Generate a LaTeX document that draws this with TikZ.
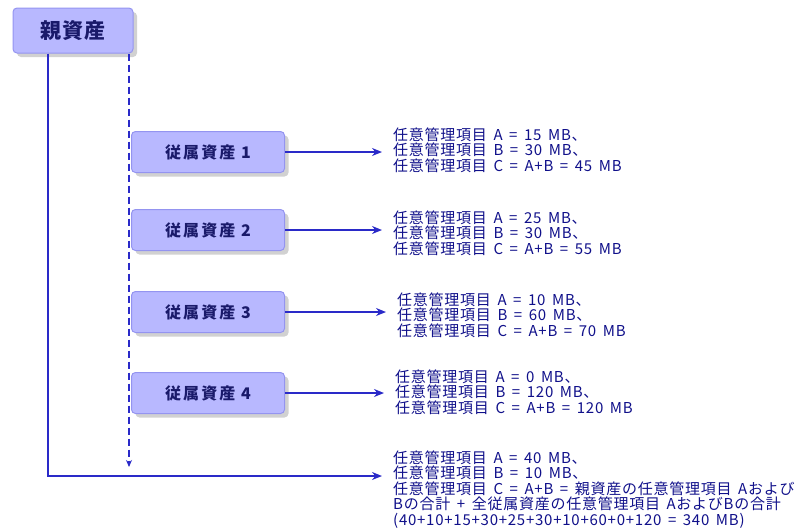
\documentclass[tikz,border=0pt]{standalone}
\usepackage{fontspec}
\setmainfont{Noto Sans CJK JP}
\newfontfamily\infofont{Noto Sans CJK JP}[LetterSpace=5,WordSpace=1.6]
\usepackage{xcolor}
\usetikzlibrary{arrows.meta,shadows}
\definecolor{boxfill}{HTML}{B8B8FF}
\definecolor{boxline}{HTML}{9494F0}
\definecolor{linkblue}{HTML}{2A2AC8}
\definecolor{txtblue}{HTML}{10108A}
\definecolor{lblblue}{HTML}{1A1A6A}

\begin{document}
\begin{tikzpicture}[x=1pt,y=-1pt,
    assetbox/.style={draw=boxline,fill=boxfill,rounded corners=4pt,line width=1pt,inner sep=0,
      drop shadow={shadow xshift=4pt,shadow yshift=-4pt,opacity=.3,fill=black!60},
      text=lblblue,font=\bfseries\fontsize{16}{16}\selectfont\addfontfeature{LetterSpace=13}},
    childbox/.style={assetbox,minimum width=153pt,minimum height=41pt},
    info/.style={anchor=west,align=left,inner sep=0,text=txtblue,font=\infofont\fontsize{15}{15.5}\selectfont},
    link/.style={draw=linkblue,line width=1.4pt,shorten >=11pt,-{Stealth[length=10pt,width=8pt]}},
    dlink/.style={draw=linkblue,line width=1.4pt,dash pattern=on 7pt off 4pt,-{Stealth[length=7pt,width=6pt]}}]
  \useasboundingbox (0,0) rectangle (801,528);

  \node[assetbox,minimum width=120pt,minimum height=45pt,font=\bfseries\fontsize{21}{21}\selectfont\addfontfeature{LetterSpace=6}] (parent) at (73,30.5) {親資産};

  % child assets, one row each
  \node[childbox] (sub1) at (208,152) {従属資産 1};
  \node[childbox] (sub2) at (208,230) {従属資産 2};
  \node[childbox] (sub3) at (208,312) {従属資産 3};
  \node[childbox] (sub4) at (208,393) {従属資産 4};

  \node[info] (info1) at (393,150) {任意管理項目 A = 15 MB、\\任意管理項目 B = 30 MB、\\任意管理項目 C = A+B = 45 MB};
  \node[info] (info2) at (393,233) {任意管理項目 A = 25 MB、\\任意管理項目 B = 30 MB、\\任意管理項目 C = A+B = 55 MB};
  \node[info] (info3) at (397,315) {任意管理項目 A = 10 MB、\\任意管理項目 B = 60 MB、\\任意管理項目 C = A+B = 70 MB};
  \node[info] (info4) at (395,392) {任意管理項目 A = 0 MB、\\任意管理項目 B = 120 MB、\\任意管理項目 C = A+B = 120 MB};
  \node[info] (info5) at (393,489.5) {任意管理項目 A = 40 MB、\\任意管理項目 B = 10 MB、\\任意管理項目 C = A+B = 親資産の任意管理項目 Aおよび\\Bの合計 + 全従属資産の任意管理項目 AおよびBの合計\\(40+10+15+30+25+30+10+60+0+120 = 340 MB)};

  \draw[link] (sub1.east) -- (sub1.east -| info1.west);
  \draw[link] (sub2.east) -- (sub2.east -| info2.west);
  \draw[link] (sub3.east) -- (sub3.east -| info3.west);
  \draw[link] (sub4.east) -- (sub4.east -| info4.west);

  \coordinate (bend) at (48,476);  % corner of the parent's own line
  \coordinate (dend) at (129,467); % end of the dashed line
  \draw[link] (parent.south -| bend) -- (bend) -- (bend -| info5.west);
  \draw[dlink] (parent.south -| dend) -- (dend);
\end{tikzpicture}
\end{document}
